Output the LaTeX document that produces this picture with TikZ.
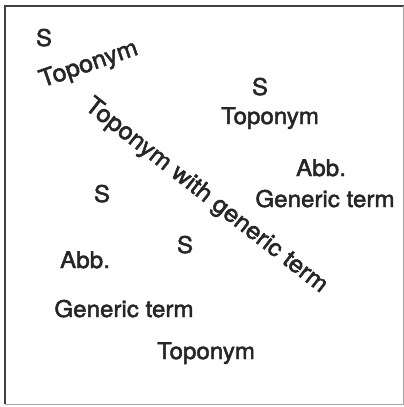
\documentclass[tikz,border=0pt]{standalone}
\usepackage{fontspec}
\newfontfamily\lblfont{TeX Gyre Heros}[FakeStretch=1.05, FakeBold=2]
\begin{document}
\begin{tikzpicture}[x=1pt,y=-1pt,
  lbl/.style={font=\lblfont\fontsize{23}{26}\selectfont, inner sep=0pt, text=black!85},
  lblb/.style={lbl, anchor=base},
  rlbl/.style={lbl, font=\lblfont\fontsize{24}{27}\selectfont}]
\useasboundingbox (0,0) rectangle (404,407);
\fill[white] (0,0) rectangle (404,407);
% frame
\draw[black!75, line width=1.6pt] (5,404) -- (5,6) -- (404,6);
\draw[black!35, line width=0.8pt] (5,404) -- (403,404) -- (403,6);
% labels
\node[lblb] (s1) at (44,46) {S};
\node[rlbl, rotate=19] (top1) at (89,65) {Toponym};
\node[rlbl, rotate=-38] (diag) at (206,196) {Toponym with generic term};
\node[lblb] (s2) at (260,95) {S};
\node[lblb] (top2) at (270,124) {Toponym};
\node[lblb] (abb1) at (321,176) {Abb.};
\node[lblb] (gen1) at (325,207) {Generic term};
\node[lblb] (s3) at (102,202) {S};
\node[lblb] (s4) at (185,253) {S};
\node[lblb] (abb2) at (85,268) {Abb.};
\node[lblb] (gen2) at (124,317) {Generic term};
\node[lblb] (top3) at (206,359) {Toponym};
\end{tikzpicture}
\end{document}
